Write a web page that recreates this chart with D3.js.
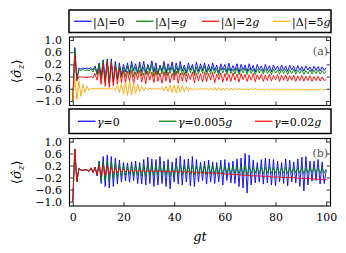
<!DOCTYPE html>
<html>
<head>
<meta charset="utf-8">
<script src="https://cdn.jsdelivr.net/npm/d3@7"></script>
<style>
  body { margin: 0; background: #fff; }
  text { font-family: "DejaVu Serif", "Liberation Serif", serif; }
</style>
</head>
<body>
<svg id="chart" width="346" height="253"></svg>
<script>
// sampling step of the series (gt units)
const dt = 0.8;
const xTicks = [0, 20, 40, 60, 80, 100];
const yTicks = [1.0, 0.6, 0.2, -0.2, -0.6, -1.0];

const labelsA = ['|Δ|=0', '|Δ|=g', '|Δ|=2g', '|Δ|=5g'];
const labelsB = ['γ=0', 'γ=0.005g', 'γ=0.02g'];

// panel (a): detuning
const blueA = [
  -1.0, 0.75, -0.3, 0.08, 0.05, 0.08, 0.06, 0.08, 0.05, 0.1,
  0.02, 0.15, -0.1, 0.25, -0.2, 0.35, -0.3, 0.38, -0.4, 0.38,
  -0.35, 0.3, -0.25, 0.25, -0.15, 0.2, -0.05, 0.25, -0.1, 0.3,
  0.0, 0.22, -0.08, 0.28, -0.05, 0.3, -0.1, 0.2, 0.0, 0.32,
  -0.05, 0.25, -0.12, 0.18, -0.02, 0.3, -0.08, 0.22, 0.0, 0.28,
  -0.1, 0.25, -0.05, 0.3, -0.02, 0.18, -0.08, 0.25, 0.02, 0.2,
  -0.1, 0.28, -0.03, 0.22, 0.0, 0.25, -0.05, 0.2, -0.02, 0.25,
  0.0, 0.18, -0.08, 0.22, 0.02, 0.2, -0.05, 0.24, -0.02, 0.16,
  0.0, 0.22, -0.06, 0.2, 0.02, 0.18, -0.04, 0.22, 0.0, 0.17,
  -0.05, 0.2, 0.02, 0.15, -0.03, 0.2, 0.0, 0.16, -0.04, 0.18,
  0.02, 0.14, -0.02, 0.18, 0.0, 0.15, -0.03, 0.17, 0.02, 0.14,
  -0.03, 0.16, 0.0, 0.13, -0.02, 0.15, 0.01, 0.12, -0.03, 0.14,
  0.0, 0.13, -0.02, 0.12, 0.0, 0.1
];
const greenA = [
  -1.0, 0.7, -0.32, 0.02, 0.0, 0.03, 0.0, 0.02, -0.01, 0.05,
  -0.05, 0.12, -0.15, 0.22, -0.28, 0.32, -0.38, 0.35, -0.42, 0.3,
  -0.38, 0.22, -0.3, 0.15, -0.22, 0.1, -0.2, 0.15, -0.15, 0.18,
  -0.2, 0.1, -0.12, 0.2, -0.18, 0.12, -0.15, 0.16, -0.1, 0.2,
  -0.2, 0.1, -0.15, 0.15, -0.12, 0.18, -0.18, 0.1, -0.1, 0.15,
  -0.2, 0.12, -0.12, 0.16, -0.15, 0.08, -0.18, 0.12, -0.08, 0.14,
  -0.16, 0.1, -0.12, 0.12, -0.1, 0.14, -0.15, 0.08, -0.12, 0.12,
  -0.1, 0.06, -0.16, 0.1, -0.08, 0.08, -0.14, 0.1, -0.1, 0.05,
  -0.12, 0.09, -0.14, 0.06, -0.08, 0.08, -0.13, 0.07, -0.1, 0.05,
  -0.14, 0.06, -0.08, 0.04, -0.12, 0.06, -0.1, 0.03, -0.13, 0.05,
  -0.09, 0.02, -0.12, 0.04, -0.1, 0.03, -0.13, 0.02, -0.1, 0.04,
  -0.12, 0.01, -0.1, 0.03, -0.13, 0.0, -0.11, 0.02, -0.12, 0.01,
  -0.1, 0.02, -0.12, 0.0, -0.1, -0.02
];
const redA = [
  -1.0, 0.5, -0.35, -0.2, -0.22, -0.21, -0.23, -0.22, -0.22, -0.2,
  -0.24, -0.1, -0.32, 0.05, -0.45, 0.2, -0.52, 0.3, -0.55, 0.25,
  -0.5, 0.15, -0.45, 0.05, -0.4, 0.0, -0.4, -0.02, -0.35, 0.0,
  -0.42, -0.05, -0.3, 0.02, -0.38, -0.08, -0.43, -0.02, -0.32, -0.05,
  -0.4, 0.0, -0.36, -0.08, -0.42, -0.04, -0.35, -0.05, -0.4, -0.1,
  -0.32, -0.02, -0.42, -0.08, -0.35, -0.06, -0.38, -0.1, -0.3, -0.05,
  -0.4, -0.08, -0.34, -0.1, -0.38, -0.06, -0.36, -0.1, -0.32, -0.06,
  -0.4, -0.12, -0.3, -0.08, -0.38, -0.1, -0.34, -0.12, -0.36, -0.08,
  -0.32, -0.12, -0.38, -0.1, -0.3, -0.12, -0.36, -0.14, -0.32, -0.1,
  -0.37, -0.14, -0.3, -0.12, -0.36, -0.15, -0.33, -0.12, -0.35, -0.16,
  -0.31, -0.13, -0.36, -0.15, -0.32, -0.14, -0.35, -0.17, -0.32, -0.15,
  -0.36, -0.18, -0.33, -0.16, -0.35, -0.19, -0.33, -0.17, -0.36, -0.2,
  -0.33, -0.19, -0.35, -0.21, -0.33, -0.3
];
const orangeA = [
  -1.0, -0.28, -0.95, -0.35, -0.85, -0.45, -0.72, -0.52, -0.65, -0.57,
  -0.61, -0.59, -0.6, -0.6, -0.59, -0.61, -0.6, -0.6, -0.6, -0.6,
  -0.56, -0.65, -0.5, -0.72, -0.44, -0.78, -0.38, -0.82, -0.36, -0.8,
  -0.4, -0.76, -0.46, -0.7, -0.52, -0.66, -0.56, -0.63, -0.59, -0.6,
  -0.6, -0.61, -0.58, -0.63, -0.55, -0.66, -0.52, -0.69, -0.49, -0.72,
  -0.47, -0.74, -0.48, -0.72, -0.5, -0.7, -0.53, -0.67, -0.56, -0.65,
  -0.58, -0.63, -0.6, -0.61, -0.6, -0.62, -0.58, -0.64, -0.57, -0.65,
  -0.56, -0.66, -0.56, -0.66, -0.57, -0.65, -0.57, -0.65, -0.58, -0.64,
  -0.59, -0.64, -0.59, -0.63, -0.6, -0.63, -0.6, -0.64, -0.6, -0.63,
  -0.59, -0.64, -0.6, -0.64, -0.61, -0.64, -0.6, -0.65, -0.6, -0.64,
  -0.61, -0.65, -0.61, -0.64, -0.6, -0.65, -0.61, -0.65, -0.61, -0.64,
  -0.6, -0.65, -0.61, -0.64, -0.61, -0.65, -0.62, -0.65, -0.61, -0.64,
  -0.62, -0.65, -0.61, -0.65, -0.62, -0.64
];

// panel (b): damping
const blueB = [
  -1.0, 0.75, -0.35, 0.1, 0.05, 0.04, 0.05, 0.06, 0.0, 0.12,
  -0.02, 0.15, -0.15, 0.35, -0.4, 0.5, -0.5, 0.55, -0.55, 0.5,
  -0.5, 0.45, -0.42, 0.38, -0.35, 0.3, -0.32, 0.28, -0.36, 0.32,
  -0.3, 0.35, -0.4, 0.3, -0.42, 0.4, -0.45, 0.48, -0.4, 0.42,
  -0.5, 0.4, -0.45, 0.5, -0.4, 0.35, -0.5, 0.4, -0.58, 0.32,
  -0.35, 0.45, -0.42, 0.52, -0.45, 0.4, -0.35, 0.42, -0.48, 0.5,
  -0.5, 0.4, -0.35, 0.3, -0.3, 0.35, -0.42, 0.38, -0.35, 0.32,
  -0.4, 0.3, -0.35, 0.38, -0.45, 0.4, -0.3, 0.3, -0.38, 0.35,
  -0.4, 0.42, -0.5, 0.45, -0.55, 0.6, -0.72, 0.55, -0.45, 0.38,
  -0.38, 0.3, -0.35, 0.4, -0.42, 0.45, -0.38, 0.42, -0.45, 0.4,
  -0.48, 0.35, -0.35, 0.3, -0.4, 0.42, -0.48, 0.38, -0.35, 0.32,
  -0.38, 0.42, -0.5, 0.48, -0.65, 0.5, -0.45, 0.35, -0.32, 0.35,
  -0.3, 0.4, -0.42, 0.32, -0.4, 0.05
];
const greenB = [
  -1.0, 0.75, -0.35, 0.1, 0.05, 0.04, 0.05, 0.06, 0.0, 0.12,
  -0.02, 0.14, -0.12, 0.3, -0.3, 0.35, -0.32, 0.35, -0.3, 0.32,
  -0.25, 0.28, -0.2, 0.22, -0.15, 0.2, -0.12, 0.18, -0.1, 0.2,
  -0.15, 0.2, -0.12, 0.18, -0.15, 0.2, -0.18, 0.22, -0.12, 0.18,
  -0.15, 0.2, -0.12, 0.22, -0.1, 0.18, -0.14, 0.2, -0.18, 0.15,
  -0.12, 0.2, -0.1, 0.22, -0.12, 0.18, -0.08, 0.2, -0.1, 0.22,
  -0.12, 0.2, -0.08, 0.18, -0.06, 0.2, -0.1, 0.24, -0.08, 0.22,
  -0.1, 0.18, -0.06, 0.2, -0.1, 0.16, -0.05, 0.15, -0.08, 0.18,
  -0.06, 0.16, -0.08, 0.18, -0.1, 0.2, -0.12, 0.16, -0.06, 0.15,
  -0.05, 0.14, -0.06, 0.15, -0.08, 0.14, -0.05, 0.15, -0.06, 0.13,
  -0.05, 0.14, -0.06, 0.12, -0.05, 0.14, -0.07, 0.13, -0.04, 0.12,
  -0.05, 0.13, -0.06, 0.14, -0.08, 0.12, -0.05, 0.12, -0.04, 0.13,
  -0.05, 0.12, -0.06, 0.1, -0.05, 0.08
];
const redB = [
  -1.0, 0.75, -0.35, 0.1, 0.05, 0.04, 0.05, 0.06, 0.0, 0.12,
  -0.05, 0.15, -0.1, 0.2, -0.15, 0.22, -0.12, 0.2, -0.1, 0.15,
  -0.06, 0.12, -0.04, 0.1, -0.02, 0.08, 0.0, 0.06, -0.02, 0.05,
  0.0, 0.04, -0.02, 0.05, 0.0, 0.03, -0.01, 0.04, 0.0, 0.03,
  -0.01, 0.03, 0.0, 0.02, -0.02, 0.03, -0.01, 0.02, -0.02, 0.02,
  -0.02, 0.01, -0.03, 0.01, -0.02, 0.0, -0.03, 0.0, -0.04, -0.01,
  -0.04, -0.02, -0.05, -0.02, -0.05, -0.03, -0.06, -0.04, -0.06, -0.04,
  -0.07, -0.05, -0.08, -0.06, -0.08, -0.07, -0.1, -0.08, -0.1, -0.09,
  -0.11, -0.1, -0.12, -0.11, -0.13, -0.12, -0.14, -0.13, -0.15, -0.14,
  -0.15, -0.14, -0.16, -0.15, -0.17, -0.16, -0.17, -0.17, -0.18, -0.18,
  -0.19, -0.18, -0.19, -0.19, -0.2, -0.2, -0.21, -0.2, -0.21, -0.21,
  -0.22, -0.22, -0.22, -0.23, -0.24, -0.23, -0.24, -0.24, -0.25, -0.25,
  -0.25, -0.26, -0.26, -0.26, -0.27, -0.27
];

const colors = ['#0000ff', '#008000', '#ff0000', '#ffa500'];

const svg = d3.select('#chart');
const x = d3.scaleLinear().domain([-1.3, 101.7]).range([69.5, 330.5]);
const fmt = d3.format('.1f');

// labels with italic g / γ
function mathText(sel, str) {
  for (const ch of str) {
    const t = sel.append('tspan').text(ch);
    if (ch === 'g' || ch === 'γ') t.attr('font-style', 'italic');
  }
}

function drawLegend(top, bottom, labels, starts) {
  const g = svg.append('g');
  g.append('rect')
    .attr('x', 69).attr('y', top)
    .attr('width', 262).attr('height', bottom - top)
    .attr('fill', '#fff').attr('stroke', '#000').attr('stroke-width', 1.5);
  const mid = (top + bottom) / 2;
  labels.forEach((lab, i) => {
    g.append('line')
      .attr('x1', starts[i]).attr('x2', starts[i] + 17.5)
      .attr('y1', mid).attr('y2', mid)
      .attr('stroke', colors[i]).attr('stroke-width', 1.2);
    const t = g.append('text')
      .attr('x', starts[i] + 19).attr('y', mid + 4.3)
      .attr('font-size', 11);
    mathText(t, lab);
  });
}

function drawPanel(top, bottom, series, tag, showX) {
  const y = d3.scaleLinear().domain([-1.15, 1.1]).range([bottom, top]);
  const clipId = 'clip-' + tag;
  svg.append('clipPath').attr('id', clipId).append('rect')
    .attr('x', 69.5).attr('y', top).attr('width', 261).attr('height', bottom - top);

  const line = d3.line().x((d, i) => x(i * dt)).y(d => y(d));
  const lines = svg.append('g').attr('clip-path', `url(#${clipId})`);
  series.forEach((s, k) => {
    lines.append('path')
      .attr('d', line(s))
      .attr('fill', 'none')
      .attr('stroke', colors[k])
      .attr('stroke-width', 0.9)
      .attr('stroke-linejoin', 'round');
  });

  const axes = [
    [d3.axisLeft(y).tickValues(yTicks).tickFormat(fmt).tickPadding(7.5), `translate(69.5,0)`],
    [d3.axisRight(y).tickValues(yTicks).tickFormat(''), `translate(330.5,0)`],
    [d3.axisTop(x).tickValues(xTicks).tickFormat(''), `translate(0,${top})`],
    [d3.axisBottom(x).tickValues(xTicks).tickFormat(showX ? d3.format('d') : '').tickPadding(6.8), `translate(0,${bottom})`]
  ];
  axes.forEach(([ax, tr]) => {
    const g = svg.append('g').attr('transform', tr)
      .call(ax.tickSizeInner(-4).tickSizeOuter(0));
    g.select('.domain').remove();
    g.selectAll('line').attr('stroke', '#000').attr('stroke-width', 0.8);
    g.selectAll('text').attr('font-family', '"DejaVu Serif", serif').attr('font-size', 11).attr('fill', '#000');
  });

  svg.append('rect')
    .attr('x', 69.5).attr('y', top).attr('width', 261).attr('height', bottom - top)
    .attr('fill', 'none').attr('stroke', '#000').attr('stroke-width', 1.1);

  svg.append('text')
    .attr('x', 328).attr('y', top + 18)
    .attr('text-anchor', 'end').attr('font-size', 11).attr('fill', '#555')
    .text(`(${tag})`);

  const yt = svg.append('text')
    .attr('transform', `translate(21,${(top + bottom) / 2}) rotate(-90)`)
    .attr('text-anchor', 'middle').attr('font-size', 13);
  yt.append('tspan').text('⟨');
  yt.append('tspan').attr('font-style', 'italic').text('σ̂');
  yt.append('tspan').attr('font-style', 'italic').attr('font-size', 9).attr('dy', 3).text('z');
  yt.append('tspan').attr('dy', -3).text('⟩');
}

drawLegend(10, 32.5, labelsA, [74, 136, 201.7, 273]);
drawPanel(37, 105.5, [blueA, greenA, redA, orangeA], 'a', false);
drawLegend(109, 133.5, labelsB, [78, 159, 255]);
drawPanel(138.5, 206, [blueB, greenB, redB], 'b', true);

svg.append('text')
  .attr('x', 200).attr('y', 241)
  .attr('text-anchor', 'middle').attr('font-size', 13).attr('font-style', 'italic')
  .text('gt');
</script>
</body>
</html>
